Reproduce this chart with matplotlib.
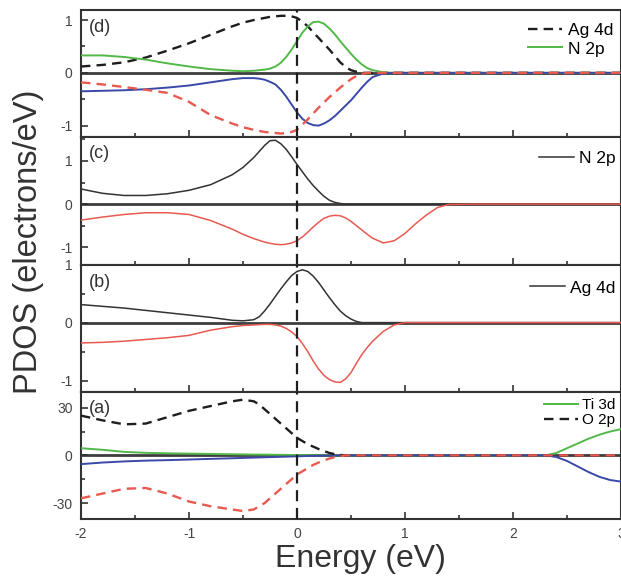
import matplotlib
matplotlib.use('Agg')
import matplotlib.pyplot as plt
from matplotlib.ticker import MultipleLocator, AutoMinorLocator

plt.rcParams['font.family'] = ['Liberation Sans', 'DejaVu Sans']
plt.rcParams['axes.unicode_minus'] = False

# energy grid (eV), shared by all curves
energy = [-2.0, -1.8, -1.6, -1.4, -1.2, -1.0, -0.8, -0.6, -0.5, -0.4,
          -0.35, -0.3, -0.25, -0.2, -0.15, -0.1, -0.05, 0.0, 0.05, 0.1, 0.15,
          0.2, 0.25, 0.3, 0.35, 0.4, 0.45, 0.5, 0.55, 0.6, 0.65, 0.7,
          0.8, 0.9, 1.0, 1.1, 1.2, 1.3, 1.4, 1.6, 2.0,
          2.3, 2.4, 2.5, 2.6, 2.7, 2.8, 2.9, 3.0]

# panel (d)
ag4d_up_d = [0.12, 0.15, 0.20, 0.29, 0.42, 0.56, 0.72, 0.88, 0.95, 1.00,
             1.02, 1.04, 1.06, 1.07, 1.08, 1.08, 1.07, 1.04, 0.97, 0.88, 0.77,
             0.66, 0.55, 0.44, 0.32, 0.20, 0.11, 0.05, 0.02, 0.0] + [0.0] * 19
n2p_up_d = [0.33, 0.33, 0.30, 0.25, 0.18, 0.12, 0.07, 0.04, 0.03, 0.04,
            0.05, 0.06, 0.08, 0.12, 0.19, 0.30, 0.44, 0.60, 0.76, 0.88, 0.96,
            0.97, 0.93, 0.84, 0.73, 0.60, 0.48, 0.36, 0.25, 0.16, 0.09, 0.05,
            0.01, 0.0] + [0.0] * 15
n2p_dn_d = [-0.35, -0.34, -0.33, -0.31, -0.28, -0.24, -0.18, -0.12, -0.10, -0.10,
            -0.11, -0.13, -0.17, -0.22, -0.32, -0.45, -0.60, -0.75, -0.87, -0.95, -0.99,
            -1.00, -0.96, -0.90, -0.82, -0.72, -0.62, -0.52, -0.40, -0.28, -0.17, -0.08,
            -0.01, 0.0] + [0.0] * 15
ag4d_dn_d = [-0.18, -0.22, -0.27, -0.32, -0.38, -0.55, -0.80, -0.96, -1.03, -1.08,
             -1.10, -1.12, -1.13, -1.14, -1.15, -1.14, -1.12, -1.08, -0.98, -0.88, -0.77,
             -0.66, -0.56, -0.46, -0.37, -0.28, -0.20, -0.12, -0.06, -0.02, 0.0] + [0.0] * 18

# panel (c)
n2p_up_c = [0.35, 0.25, 0.20, 0.20, 0.24, 0.32, 0.45, 0.68, 0.85, 1.08,
            1.22, 1.36, 1.47, 1.48, 1.40, 1.27, 1.10, 0.92, 0.75, 0.58, 0.43,
            0.30, 0.18, 0.09, 0.04, 0.015, 0.0] + [0.0] * 22
n2p_dn_c = [-0.37, -0.30, -0.24, -0.20, -0.20, -0.24, -0.38, -0.58, -0.70, -0.80,
            -0.84, -0.88, -0.91, -0.93, -0.94, -0.93, -0.90, -0.85, -0.76, -0.65, -0.53,
            -0.42, -0.33, -0.28, -0.26, -0.27, -0.32, -0.40, -0.50, -0.60, -0.70, -0.79,
            -0.90, -0.85, -0.68, -0.45, -0.25, -0.08, -0.01, 0.0] + [0.0] * 9

# panel (b)
ag4d_up_b = [0.31, 0.28, 0.25, 0.21, 0.17, 0.13, 0.09, 0.04, 0.03, 0.05,
             0.10, 0.20, 0.32, 0.45, 0.58, 0.70, 0.81, 0.88, 0.91, 0.88, 0.80,
             0.69, 0.56, 0.43, 0.31, 0.20, 0.12, 0.06, 0.02, 0.0] + [0.0] * 19
ag4d_dn_b = [-0.35, -0.34, -0.32, -0.29, -0.26, -0.22, -0.13, -0.07, -0.05, -0.04,
             -0.035, -0.03, -0.03, -0.04, -0.06, -0.10, -0.16, -0.24, -0.36, -0.50, -0.66,
             -0.80, -0.91, -0.98, -1.02, -1.03, -0.97, -0.86, -0.70, -0.55, -0.43, -0.32,
             -0.15, -0.04, 0.0] + [0.0] * 14

# panel (a)
o2p_up_a = [25, 22, 19.5, 20, 24, 28, 31, 34, 35, 34,
            32, 29, 26, 23, 20, 17, 14, 11, 9, 7, 5.5,
            4, 2.7, 1.5, 0.8, 0.3, 0] + [0] * 22
o2p_dn_a = [-27, -24, -21, -20.5, -24, -29, -32, -34, -35, -34,
            -32, -30, -27, -24, -21, -18, -15, -12, -10, -8, -6,
            -4.5, -3.2, -2, -1.1, -0.5, 0] + [0] * 22
ti3d_up_a = [4.5, 3.5, 2.2, 1.6, 1.3, 1.1, 0.9, 0.7, 0.6, 0.5,
             0.48, 0.45, 0.42, 0.4, 0.35, 0.3, 0.25, 0.2, 0.15, 0.1, 0.07,
             0.05, 0.03, 0.01] + [0] * 18 + [1.5, 4.5, 7.5, 10.5, 13, 15, 16.5]
ti3d_dn_a = [-5.5, -4.5, -3.8, -3.3, -3.0, -2.6, -2.2, -1.8, -1.6, -1.4,
             -1.3, -1.2, -1.1, -1.0, -0.9, -0.8, -0.7, -0.6, -0.5, -0.4, -0.32,
             -0.25, -0.17, -0.1, -0.05, 0] + [0] * 16 + [-1.0, -3.5, -7.0, -10.5, -13.5, -15.5, -16.5]

GREEN = '#52b848'
BLUE = '#3a48a8'
RED = '#e85a50'
BLACK = '#1e1e1e'
DASH = (0, (4, 2.6))

fig = plt.figure(figsize=(6.21, 5.83), dpi=100)
W, H = 621.0, 583.0
left_px, right_px, top_px, bot_px = 81, 621, 10, 519
ph = (bot_px - top_px) / 4.0

panels = ['d', 'c', 'b', 'a']
ylims = [(-1.22, 1.19), (-1.4, 1.55), (-1.19, 1.0), (-40, 40)]
label_y = [0.866, 0.87, 0.855, 0.87]
axes = []
for i, p in enumerate(panels):
    bottom = 1 - (top_px + (i + 1) * ph) / H
    ax = fig.add_axes([left_px / W, bottom, (right_px - left_px) / W, ph / H])
    ax.set_xlim(-2, 3)
    ax.set_ylim(*ylims[i])
    ax.axhline(0, color='#3d3d3d', lw=2.0, zorder=1)
    ax.axvline(0, color=BLACK, lw=1.6, ls=(0, (5, 3)), zorder=5)
    for s in ax.spines.values():
        s.set_linewidth(1.5)
        s.set_color('#333333')
    ax.xaxis.set_major_locator(MultipleLocator(1))
    ax.xaxis.set_minor_locator(MultipleLocator(0.5))
    ax.yaxis.set_minor_locator(AutoMinorLocator(2))
    ax.tick_params(which='both', direction='in', top=False, right=False,
                   width=1.2, color='#333333', labelsize=10, labelcolor='#444444')
    ax.tick_params(which='major', length=5, pad=6)
    ax.tick_params(which='minor', length=3)
    if p != 'a':
        ax.tick_params(axis='x', labelbottom=False)
    ax.text(0.014, label_y[i], '(' + p + ')', transform=ax.transAxes, fontsize=13,
            color='#333333', va='center', ha='left')
    axes.append(ax)

ax_d, ax_c, ax_b, ax_a = axes

# (d)
l1, = ax_d.plot(energy, ag4d_up_d, color=BLACK, lw=1.7, ls=DASH, zorder=3)
l2, = ax_d.plot(energy, n2p_up_d, color=GREEN, lw=1.4, zorder=3)
ax_d.plot(energy, n2p_dn_d, color=BLUE, lw=1.4, zorder=3)
ax_d.plot(energy, ag4d_dn_d, color=RED, lw=1.7, ls=DASH, zorder=3)
ax_d.set_yticks([-1, 0, 1])
ax_d.legend([l1, l2], ['Ag 4d', 'N 2p'], loc='upper right', bbox_to_anchor=(0.985, 0.9),
            frameon=False, fontsize=12.5, handlelength=2.0, handletextpad=0.3,
            labelspacing=0.2, borderpad=0, borderaxespad=0)

# (c)
l3, = ax_c.plot(energy, n2p_up_c, color='#333333', lw=1.1, zorder=3)
ax_c.plot(energy, n2p_dn_c, color=RED, lw=1.1, zorder=3)
ax_c.set_yticks([-1, 0, 1])
ax_c.legend([l3], ['N 2p'], loc='upper right', bbox_to_anchor=(0.99, 0.89),
            frameon=False, fontsize=12.5, handlelength=2.0, handletextpad=0.3,
            borderpad=0, borderaxespad=0)

# (b)
l4, = ax_b.plot(energy, ag4d_up_b, color='#333333', lw=1.1, zorder=3)
ax_b.plot(energy, ag4d_dn_b, color=RED, lw=1.1, zorder=3)
ax_b.set_yticks([-1, 0, 1])
ax_b.legend([l4], ['Ag 4d'], loc='upper right', bbox_to_anchor=(0.99, 0.875),
            frameon=False, fontsize=12.5, handlelength=2.0, handletextpad=0.3,
            borderpad=0, borderaxespad=0)

# (a)
l5, = ax_a.plot(energy, ti3d_up_a, color=GREEN, lw=1.4, zorder=3)
ax_a.plot(energy, ti3d_dn_a, color=BLUE, lw=1.4, zorder=3)
l6, = ax_a.plot(energy, o2p_up_a, color=BLACK, lw=1.7, ls=DASH, zorder=3)
ax_a.plot(energy, o2p_dn_a, color=RED, lw=1.7, ls=DASH, zorder=3)
ax_a.set_yticks([-30, 0, 30])
ax_a.legend([l5, l6], ['Ti 3d', 'O 2p'], loc='upper right', bbox_to_anchor=(0.99, 0.95),
            frameon=False, fontsize=11, handlelength=2.2, handletextpad=0.3,
            labelspacing=0.05, borderpad=0, borderaxespad=0)
ax_a.set_xticks([-2, -1, 0, 1, 2, 3])

fig.text(29 / W, 1 - 242 / H, 'PDOS (electrons/eV)', rotation=90, fontsize=23.5,
         color='#333333', ha='center', va='center')
fig.text(360 / W, 1 - 559 / H, 'Energy (eV)', fontsize=23, color='#333333',
         ha='center', va='center')

fig.savefig('out.png', dpi=100)
